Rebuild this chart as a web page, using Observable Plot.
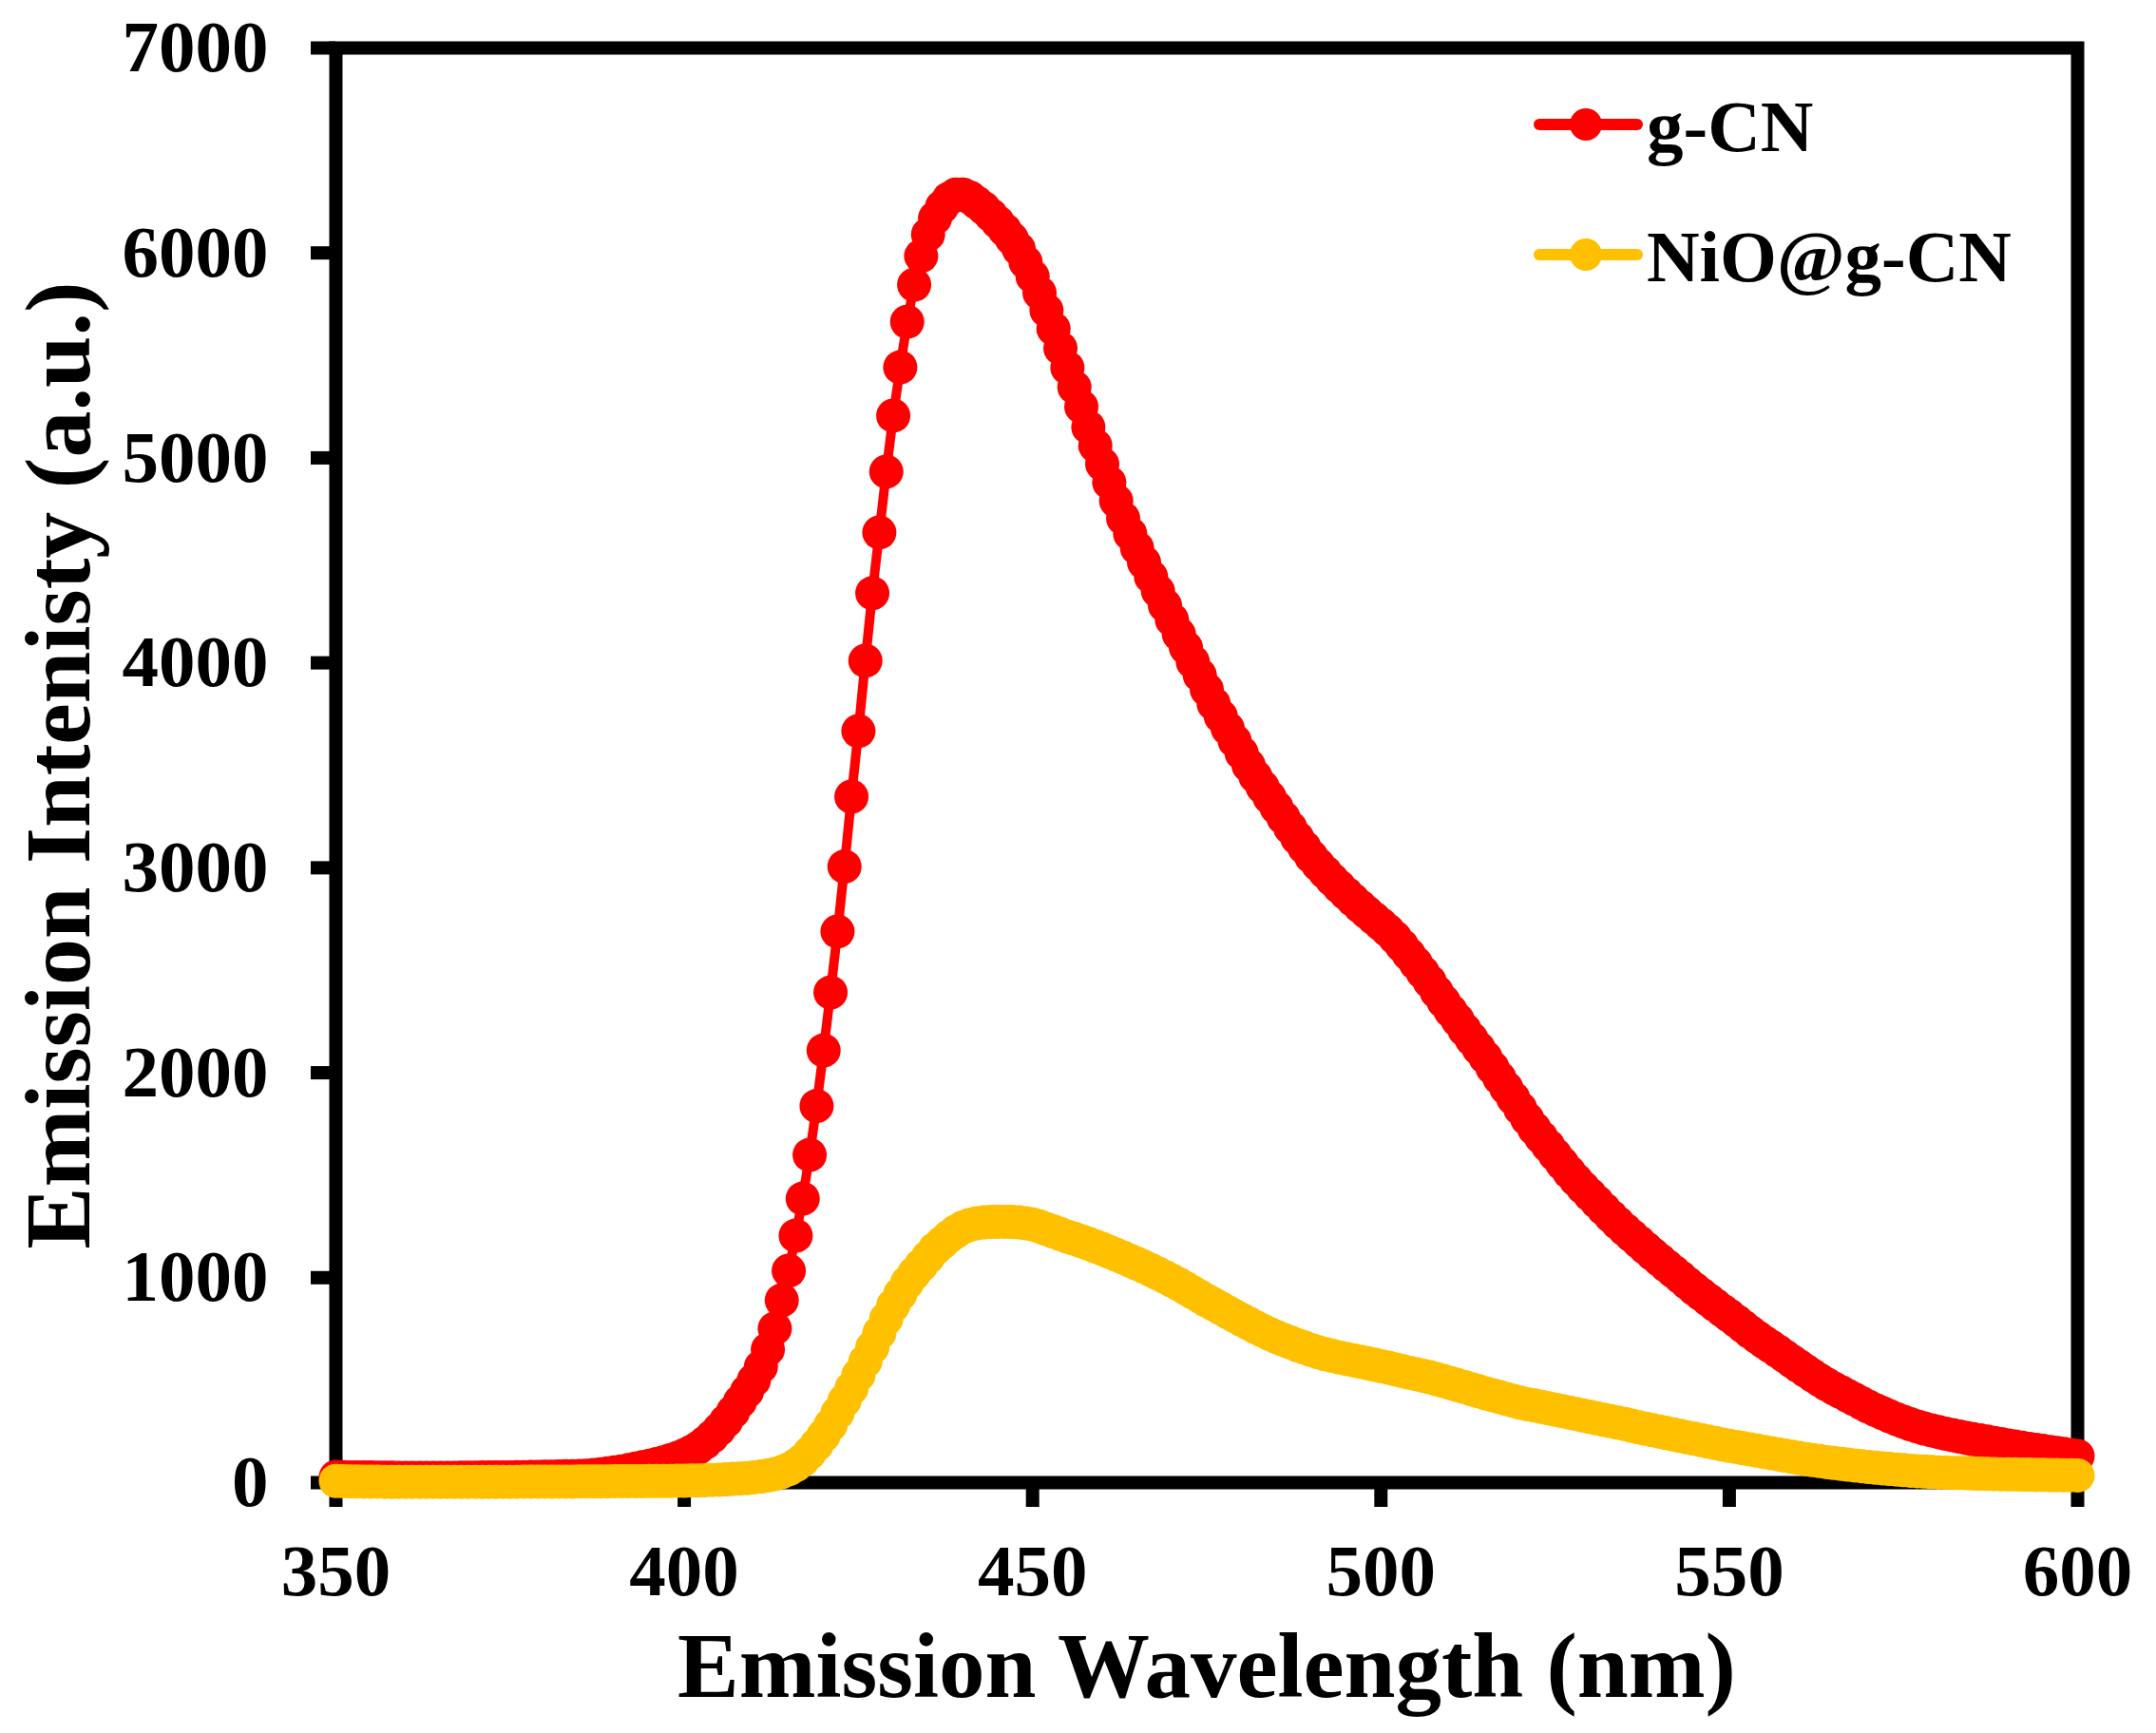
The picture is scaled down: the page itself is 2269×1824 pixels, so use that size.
<!DOCTYPE html>
<html>
<head>
<meta charset="utf-8">
<script src="https://cdn.jsdelivr.net/npm/d3@7"></script>
<script src="https://cdn.jsdelivr.net/npm/@observablehq/plot@0.6"></script>
<style>
  html, body { margin: 0; padding: 0; background: #ffffff; }
  #wrap { position: relative; width: 2269px; height: 1824px; }
  #legend { position: absolute; left: 0; top: 0; pointer-events: none; }
</style>
</head>
<body>
<div id="wrap"></div>
<script>
// ---- data ----
const wavelength = d3.range(350, 601); // nm, 1 nm steps

const gCN = [
  28, 27, 26, 26, 25, 25, 24, 24, 24, 23,
  23, 23, 23, 23, 23, 23, 23, 23, 24, 24,
  24, 25, 25, 25, 26, 26, 27, 27, 28, 28,
  29, 29, 30, 31, 31, 32, 34, 37, 40, 45,
  50, 55, 61, 68, 75, 82, 90, 99, 109, 120,
  134, 150, 170, 195, 225, 260, 300, 345, 395, 445,
  500, 565, 650, 752, 890, 1034, 1205, 1386, 1599, 1838,
  2109, 2392, 2689, 3006, 3347, 3667, 4010, 4340, 4636, 4933,
  5206, 5442, 5664, 5845, 5985, 6090, 6170, 6225, 6265, 6285,
  6285, 6270, 6245, 6218, 6185, 6150, 6112, 6070, 6020, 5955,
  5885, 5805, 5720, 5630, 5535, 5440, 5345, 5250, 5150, 5060,
  4970, 4880, 4790, 4705, 4630, 4560, 4490, 4420, 4350, 4280,
  4210, 4140, 4075, 4005, 3940, 3870, 3800, 3740, 3680, 3620,
  3560, 3500, 3445, 3395, 3345, 3295, 3245, 3195, 3145, 3100,
  3055, 3015, 2978, 2942, 2908, 2875, 2843, 2812, 2782, 2753,
  2724, 2694, 2660, 2620, 2578, 2535, 2490, 2445, 2395, 2348,
  2302, 2258, 2210, 2165, 2120, 2075, 2025, 1975, 1925, 1875,
  1825, 1775, 1728, 1685, 1643, 1600, 1558, 1516, 1477, 1440,
  1405, 1370, 1335, 1300, 1267, 1235, 1205, 1175, 1145, 1115,
  1087, 1058, 1030, 1002, 973, 945, 918, 892, 866, 840,
  815, 789, 762, 735, 710, 686, 663, 640, 616, 592,
  568, 545, 522, 500, 479, 460, 442, 424, 406, 388,
  370, 354, 339, 324, 310, 297, 285, 274, 264, 255,
  247, 239, 232, 225, 218, 212, 206, 200, 194, 188,
  181, 176, 170, 165, 160, 155, 150, 145, 140, 135,
  130
];

const nioGCN = [
  8, 7, 6, 6, 5, 5, 5, 4, 4, 4,
  4, 4, 4, 4, 4, 4, 4, 4, 4, 4,
  4, 4, 4, 4, 4, 4, 4, 5, 5, 5,
  5, 5, 5, 5, 5, 6, 6, 6, 6, 6,
  7, 7, 7, 7, 7, 8, 8, 8, 8, 9,
  9, 10, 11, 12, 13, 14, 16, 18, 20, 22,
  26, 30, 35, 42, 52, 65, 85, 110, 145, 185,
  230, 281, 340, 400, 460, 525, 592, 660, 730, 800,
  865, 920, 975, 1020, 1060, 1100, 1140, 1170, 1200, 1225,
  1245, 1258, 1266, 1270, 1272, 1273, 1273, 1272, 1270, 1266,
  1260, 1250, 1237, 1225, 1213, 1200, 1190, 1178, 1166, 1153,
  1140, 1126, 1112, 1098, 1083, 1068, 1053, 1037, 1020, 1003,
  986, 968, 948, 928, 908, 888, 870, 851, 832, 813,
  795, 777, 759, 742, 726, 711, 697, 684, 671, 659,
  647, 636, 627, 619, 611, 604, 597, 590, 583, 576,
  568, 561, 553, 545, 537, 530, 522, 514, 505, 496,
  486, 476, 466, 456, 446, 436, 427, 418, 408, 399,
  390, 383, 377, 370, 363, 356, 349, 342, 335, 328,
  321, 314, 307, 300, 293, 286, 278, 270, 263, 256,
  249, 242, 235, 228, 221, 214, 207, 200, 193, 186,
  180, 174, 168, 162, 156, 150, 144, 138, 132, 126,
  120, 115, 110, 105, 100, 96, 92, 88, 84, 80,
  76, 73, 70, 67, 64, 61, 58, 56, 54, 52,
  50, 49, 48, 47, 46, 45, 44, 43, 42, 41,
  40, 40, 39, 39, 38, 38, 37, 37, 36, 36,
  35
];

const seriesNames = ["g-CN", "NiO@g-CN"];
const seriesColors = ["#FF0000", "#FFC000"];
const xTicks = [350, 400, 450, 500, 550, 600];
const yTicks = [0, 1000, 2000, 3000, 4000, 5000, 6000, 7000];
const xTitle = "Emission Wavelength (nm)";
const yTitle = "Emission Intenisty (a.u.)";

// ---- table ----
const seriesValues = [gCN, nioGCN];
const rows = [];
seriesNames.forEach((name, s) => {
  wavelength.forEach((w, i) => rows.push({series: name, wavelength: w, intensity: seriesValues[s][i]}));
});

const FONT = "'Liberation Serif', 'Times New Roman', serif";

const seriesMarks = seriesNames.flatMap((name) => {
  const data = rows.filter(d => d.series === name);
  return [
    Plot.line(data, {x: "wavelength", y: "intensity", stroke: "series", strokeWidth: 10}),
    Plot.dot(data, {x: "wavelength", y: "intensity", fill: "series", r: 18, stroke: "none"})
  ];
});

const chart = Plot.plot({
  width: 2269,
  height: 1824,
  marginLeft: 353,
  marginRight: 83,
  marginTop: 50,
  marginBottom: 264,
  x: {domain: [350, 600]},
  y: {domain: [0, 7000]},
  color: {domain: seriesNames, range: seriesColors},
  style: {fontFamily: FONT, fontWeight: "bold", background: "white", color: "black", overflow: "visible"},
  marks: [
    Plot.frame({stroke: "black", strokeWidth: 14}),
    Plot.axisX({ticks: xTicks, tickSize: 26, tickPadding: 38, stroke: "black", strokeWidth: 14,
      fontSize: 77, fontWeight: "bold", fill: "black", label: null, tickFormat: d => String(d)}),
    Plot.axisY({ticks: yTicks, tickSize: 26, tickPadding: 45, stroke: "black", strokeWidth: 14,
      fontSize: 77, fontWeight: "bold", fill: "black", label: null, tickFormat: d => String(d)}),
    Plot.text([xTitle], {text: d => d, frameAnchor: "bottom", lineAnchor: "bottom", textAnchor: "middle",
      dy: 225, fontSize: 97, fontWeight: "bold", fill: "black"}),
    Plot.text([yTitle], {text: d => d, frameAnchor: "left", lineAnchor: "middle", textAnchor: "middle",
      rotate: -90, dx: -291, fontSize: 98, fontWeight: "bold", fill: "black"}),
    ...seriesMarks
  ]
});

const wrap = document.getElementById("wrap");
wrap.appendChild(chart);

// ---- legend (overlay) ----
const legend = d3.select(wrap).append("svg")
  .attr("id", "legend")
  .attr("width", 2269)
  .attr("height", 400);
const items = legend.selectAll("g").data(seriesNames).join("g")
  .attr("transform", (d, i) => `translate(0, ${131 + i * 137})`);
items.append("line")
  .attr("x1", 1620).attr("x2", 1723).attr("y1", 0).attr("y2", 0)
  .attr("stroke", (d, i) => seriesColors[i]).attr("stroke-width", 12).attr("stroke-linecap", "round");
items.append("circle")
  .attr("cx", 1669).attr("cy", 0).attr("r", 17)
  .attr("fill", (d, i) => seriesColors[i]);
items.append("text")
  .attr("x", 1733).attr("y", 28)
  .attr("font-family", FONT).attr("font-weight", "bold").attr("font-size", 77)
  .attr("fill", "black")
  .text(d => d);
</script>
</body>
</html>
